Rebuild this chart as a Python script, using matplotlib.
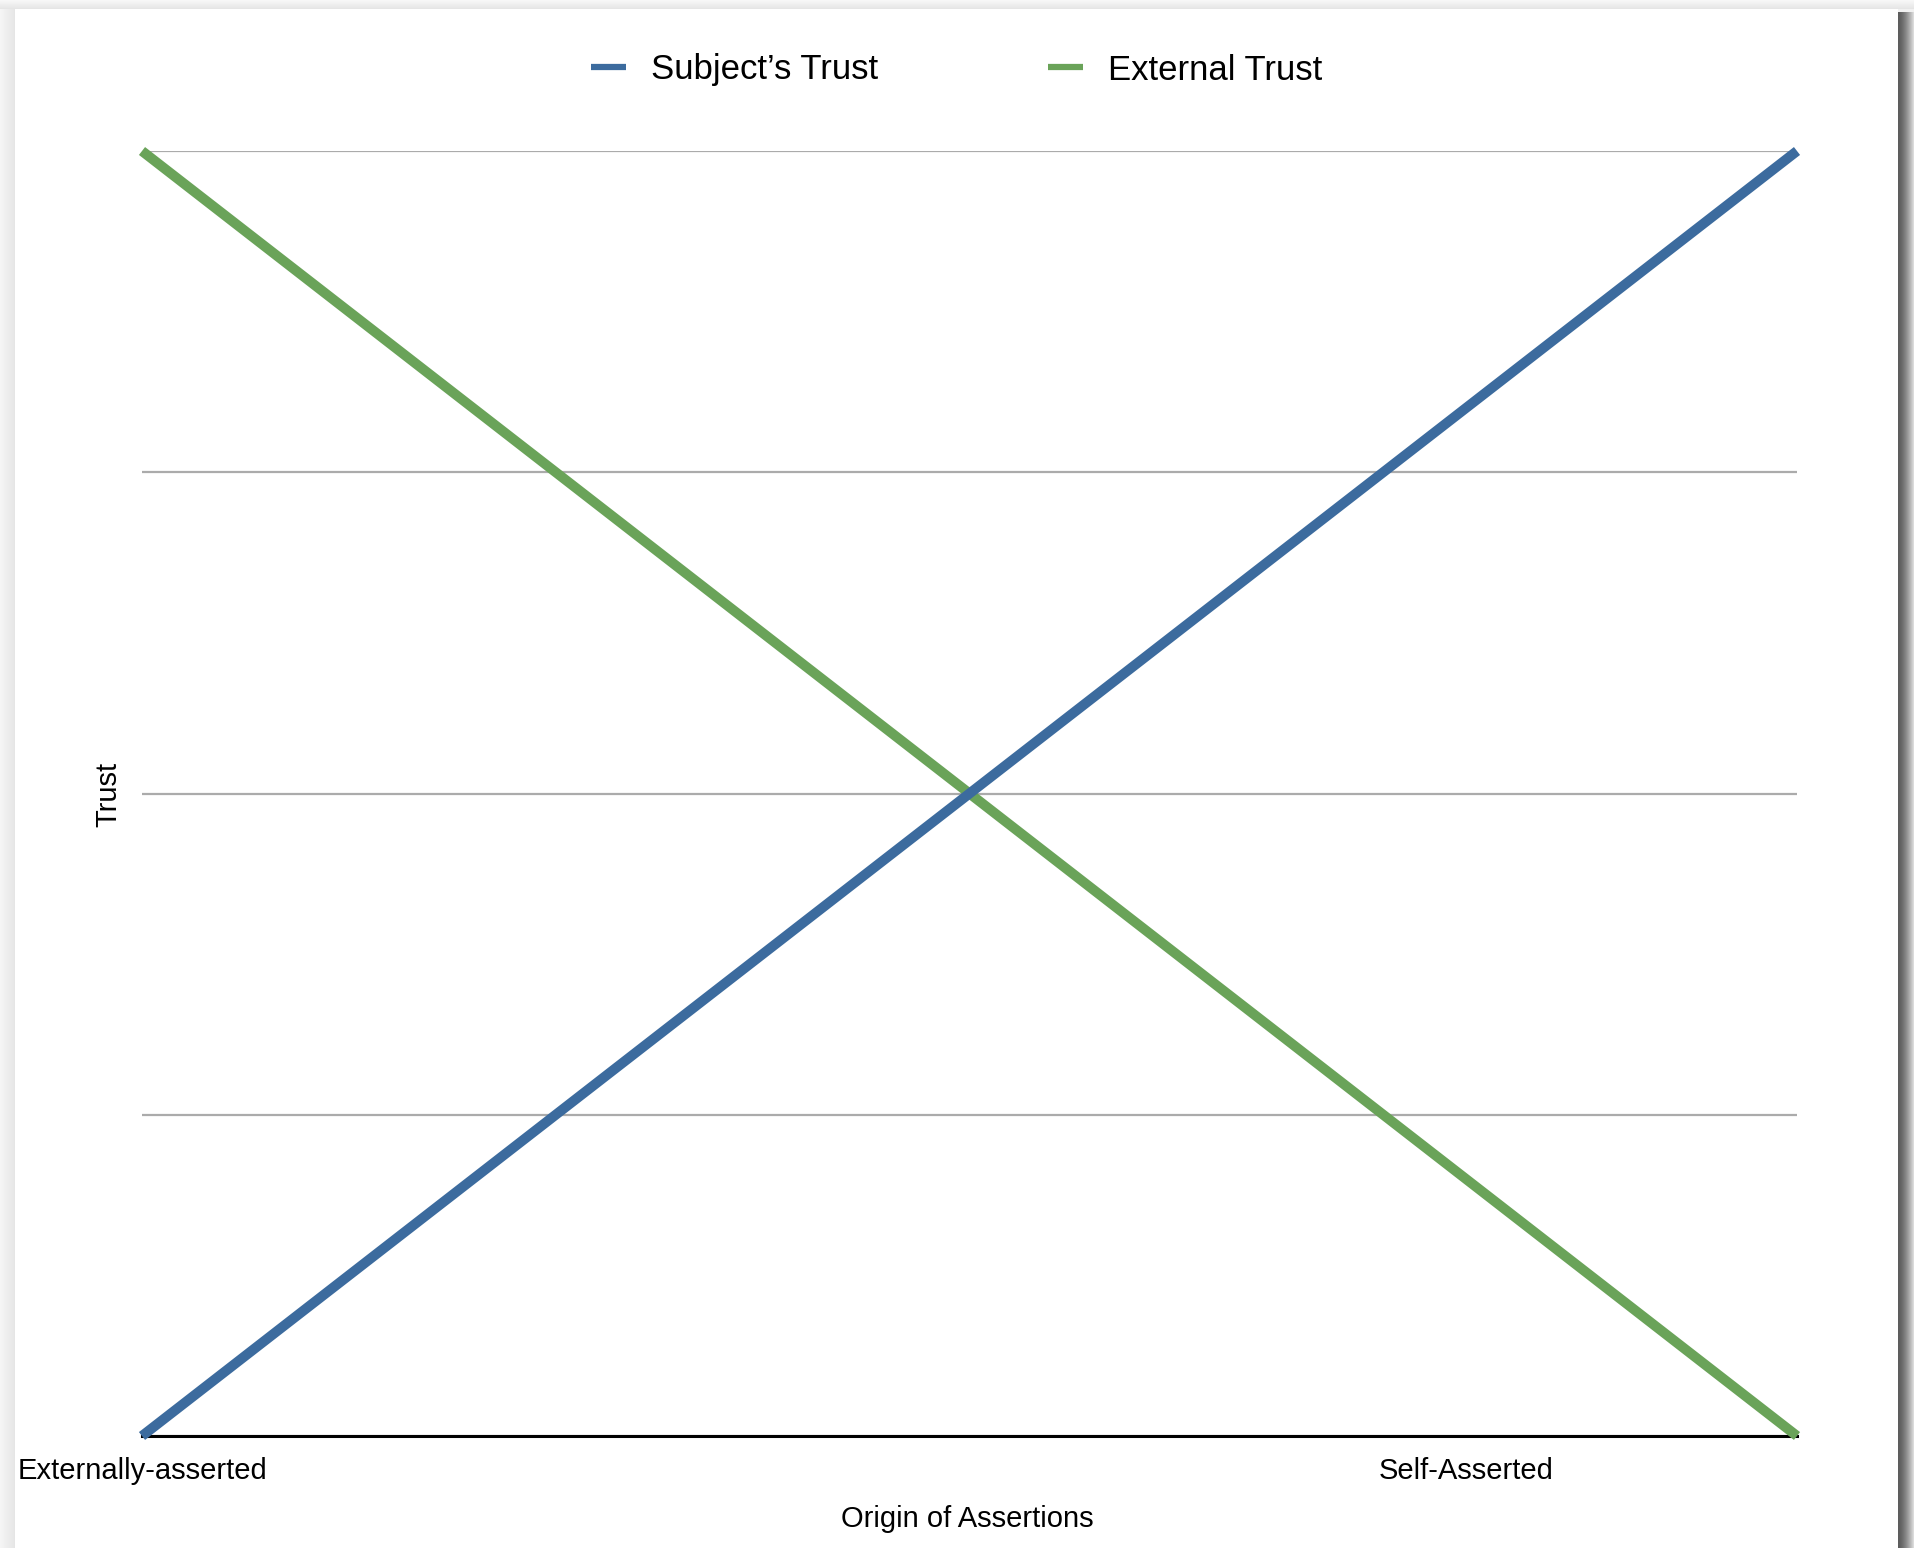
import matplotlib
matplotlib.use("Agg")
import matplotlib.pyplot as plt
from matplotlib.patches import Rectangle

# ---- data ----
categories = ["Externally-asserted", "", "", "", "Self-Asserted", ""]
subjects_trust = [0, 20, 40, 60, 80, 100]
external_trust = [100, 80, 60, 40, 20, 0]
series_names = ["Subject\u2019s Trust", "External Trust"]
x_title = "Origin of Assertions"
y_title = "Trust"
y_grid = [0, 25, 50, 75, 100]

BLUE = "#3c6b9e"
GREEN = "#6aa359"

plt.rcParams["font.family"] = ["Liberation Sans", "DejaVu Sans"]

W, H = 1914, 1548
fig = plt.figure(figsize=(W / 100, H / 100), dpi=100)
fig.patch.set_facecolor("#f1f1f1")

# card + shadows (decoration)
def rect(x0, y0, x1, y1, color, z=0):
    fig.patches.append(Rectangle((x0 / W, 1 - y1 / H), (x1 - x0) / W, (y1 - y0) / H,
                                 transform=fig.transFigure, facecolor=color,
                                 edgecolor="none", zorder=z))

# top gradient
for i in range(9):
    g = 0.97 - 0.07 * (i / 8)
    rect(0, i, W, i + 1, (g, g, g))
# left gradient
for i in range(15):
    g = 0.96 - 0.06 * (i / 14)
    rect(i, 9, i + 1, H, (g, g, g))
# right dark shadow
for i in range(16):
    g = 0.36 + 0.5 * (i / 15) ** 1.5
    rect(1898 + i, 12, 1899 + i, H, (g, g, g))
rect(15, 9, 1898, H, "white", z=0.5)

x = list(range(len(categories)))
ax = fig.add_axes([142 / W, 1 - 1436 / H, (1797 - 142) / W, (1436 - 151) / H])
ax.set_facecolor("none")
ax.set_zorder(2)

l1, = ax.plot(x, subjects_trust, color=BLUE, lw=7.2, solid_capstyle="butt",
              clip_on=False, zorder=4, label=series_names[0])
l2, = ax.plot(x, external_trust, color=GREEN, lw=7.2, solid_capstyle="butt",
              clip_on=False, zorder=3, label=series_names[1])

ax.set_xlim(x[0], x[-1])
ax.set_ylim(y_grid[0], y_grid[-1])
ax.set_yticks(y_grid)
ax.set_yticklabels([])
ax.yaxis.grid(True, color="#ababab", lw=1.6)
ax.set_axisbelow(True)
ax.tick_params(axis="y", length=0)
ax.set_xticks(x)
ax.set_xticklabels(categories, fontsize=21)
ax.tick_params(axis="x", length=0, pad=15)

for s in ["top", "left", "right"]:
    ax.spines[s].set_visible(False)
ax.spines["bottom"].set_color("black")
ax.spines["bottom"].set_linewidth(2.2)
ax.spines["bottom"].set_zorder(2.5)

ax.set_xlabel(x_title, fontsize=21, va="center")
ax.xaxis.set_label_coords(967 / W, 1 - 1519 / H, transform=fig.transFigure)
ax.set_ylabel(y_title, fontsize=21, va="center")
ax.yaxis.set_label_coords(108 / W, 1 - 794 / H, transform=fig.transFigure)

leg = fig.legend(handles=[l1, l2], loc="center", bbox_to_anchor=(0.4997, 1 - 70 / H),
                 ncol=2, frameon=False, fontsize=25, handlelength=1.0,
                 handletextpad=0.72, columnspacing=4.9, borderpad=0)
for ln in leg.get_lines():
    ln.set_linewidth(4.5)

fig.savefig("out.png", dpi=100, facecolor=fig.get_facecolor())
